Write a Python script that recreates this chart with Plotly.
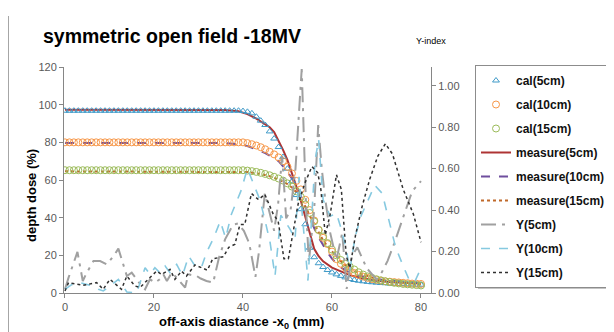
import plotly.graph_objects as go

# ---------------- data ----------------
x_mm = list(range(0, 81))

cal_5cm = [
    96.8, 96.8, 96.8, 96.8, 96.8, 96.8, 96.8, 96.8, 96.8, 96.8,
    96.8, 96.8, 96.8, 96.8, 96.8, 96.8, 96.8, 96.8, 96.8, 96.8,
    96.8, 96.8, 96.8, 96.8, 96.8, 96.8, 96.8, 96.8, 96.8, 96.8,
    96.8, 96.8, 96.8, 96.8, 96.8, 96.8, 96.8, 96.8, 96.8, 96.8,
    96.6, 96.2, 95.4, 93.6, 91.5, 89.2, 85.8, 82.0, 77.5, 72.2,
    66.0, 59.3, 52.0, 44.5, 36.5, 24.0, 19.0, 15.8, 13.8, 12.2,
    10.9, 9.9, 9.1, 8.3, 7.4, 6.9, 6.5, 6.2, 5.9, 5.7,
    5.5, 5.3, 5.2, 5.0, 4.9, 4.8, 4.7, 4.6, 4.5, 4.4,
    4.4,
]
cal_10cm = [
    80.0, 80.0, 80.0, 80.0, 80.0, 80.0, 80.0, 80.0, 80.0, 80.0,
    80.0, 80.0, 80.0, 80.0, 80.0, 80.0, 80.0, 80.0, 80.0, 80.0,
    80.0, 80.0, 80.0, 80.0, 80.0, 80.0, 80.0, 80.0, 80.0, 80.0,
    80.0, 80.0, 80.0, 80.0, 80.0, 80.0, 80.0, 80.0, 80.0, 80.0,
    80.0, 79.6, 79.0, 78.3, 77.4, 76.3, 75.0, 73.6, 72.0, 70.0,
    67.0, 63.5, 59.5, 55.0, 49.5, 44.0, 38.5, 33.5, 29.3, 26.0,
    22.0, 18.0, 15.5, 13.5, 12.0, 10.6, 9.6, 8.7, 8.0, 7.4,
    7.0, 6.6, 6.2, 6.0, 5.8, 5.6, 5.4, 5.2, 5.0, 4.9,
    4.8,
]
cal_15cm = [
    65.2, 65.2, 65.2, 65.2, 65.2, 65.2, 65.2, 65.2, 65.2, 65.2,
    65.2, 65.2, 65.2, 65.2, 65.2, 65.2, 65.2, 65.2, 65.2, 65.2,
    65.2, 65.2, 65.2, 65.2, 65.2, 65.2, 65.2, 65.2, 65.2, 65.2,
    65.2, 65.2, 65.2, 65.2, 65.2, 65.2, 65.2, 65.2, 65.2, 65.2,
    65.2, 65.0, 64.7, 64.3, 63.8, 63.2, 62.5, 61.7, 60.8, 59.7,
    58.2, 56.5, 54.0, 51.0, 47.0, 42.5, 38.0, 33.5, 30.0, 26.5,
    23.0, 20.0, 17.5, 15.5, 14.0, 12.5, 11.0, 9.8, 8.8, 8.0,
    7.3, 6.7, 6.2, 5.8, 5.4, 5.1, 4.8, 4.6, 4.4, 4.2,
    4.0,
]

meas5_x = [0, 10, 20, 30, 36, 39, 41, 43, 45, 46, 47, 48, 49, 50, 51, 52, 53, 54,
           55, 56, 57, 58, 60, 62, 64, 66, 68, 70, 73, 76, 80]
meas5_y = [97.3, 97.3, 97.3, 97.3, 97.2, 96.5, 95.0, 92.6, 89.5, 88.0, 85.5, 81.0,
           76.0, 70.5, 64.0, 56.5, 49.0, 40.5, 31.5, 23.5, 19.5, 16.8, 13.5, 11.3,
           9.5, 8.2, 7.2, 6.5, 5.8, 5.4, 5.0]

meas10_x = [0, 20, 36, 39, 41, 43, 45, 47, 48, 50, 51, 52, 53, 54, 55, 56, 57, 58,
            59, 60, 61, 62, 63, 64, 66, 68, 70, 73, 76, 80]
meas10_y = [79.7, 79.7, 79.6, 79.0, 78.0, 76.3, 74.3, 71.5, 70.0, 64.5, 61.0, 57.0,
            51.5, 45.5, 40.0, 34.5, 29.5, 25.5, 21.5, 18.3, 15.5, 13.5, 12.0, 10.8,
            9.2, 8.2, 7.4, 6.6, 6.0, 5.3]

meas15_x = [0, 20, 38, 41, 44, 46, 48, 50, 51, 52, 53, 54, 55, 56, 57, 58, 59, 60,
            61, 62, 63, 64, 66, 68, 70, 73, 76, 80]
meas15_y = [64.6, 64.6, 64.5, 64.2, 63.2, 62.0, 60.3, 57.8, 56.0, 53.5, 50.0, 46.0,
            41.0, 36.5, 32.0, 28.0, 24.8, 22.0, 19.0, 16.8, 14.8, 13.0, 10.5, 8.8,
            7.5, 6.3, 5.5, 4.6]

g5_x = [0, 0.8, 2.8, 3.4, 4.0, 4.9, 6.4, 7.9, 9.4, 10.9, 12.0, 13.9, 15.0, 16.1,
        17.2, 18.0, 19.1, 20.2, 21.3, 22.1, 22.9, 24.0, 25.1, 27.0, 27.7, 29.6,
        30.5, 31.8, 33.3, 34.6, 36.0, 37.8, 38.9, 40.2, 41.4, 42.8, 43.6, 44.9,
        46.1, 47.0, 47.9, 48.8, 49.7, 50.7, 51.8, 53.2, 54.2, 54.8, 56.0, 56.9,
        57.7, 58.5, 59.6, 61.0, 62.3, 63.3, 64.5, 65.7, 67.8, 70.0, 71.2, 72.5,
        74.0, 76.5, 78.0, 80.0]
g5_y = [0.018, 0.074, 0.198, 0.122, 0.058, 0.098, 0.154, 0.154, 0.138, 0.178,
        0.214, 0.082, 0.098, 0.066, 0.034, 0.018, 0.066, 0.05, 0.066, 0.09,
        0.058, 0.098, 0.074, 0.026, 0.09, 0.082, 0.07, 0.058, 0.05, 0.17,
        0.26, 0.33, 0.335, 0.30, 0.24, 0.078, 0.20, 0.48, 0.38, 0.30,
        0.43, 0.66, 0.36, 0.40, 0.60, 1.08, 0.40, 0.15, 0.40, 0.81,
        0.60, 0.45, 0.29, 0.16, 0.29, 0.02, 0.18, 0.22, 0.12, 0.066,
        0.10, 0.155, 0.24, 0.40, 0.49, 0.54]

g10_x = [0, 1.5, 3.4, 5.6, 7.5, 8.6, 10.1, 12.0, 13.9, 16.1, 18.0, 19.1, 20.2,
         21.3, 22.5, 23.6, 25.1, 26.4, 27.8, 29.0, 30.6, 31.8, 33.5, 34.9, 36.1,
         37.4, 39.5, 41.0, 42.3, 43.8, 44.9, 46.1, 47.2, 48.5, 49.4, 50.6, 51.7,
         52.6, 54.6, 56.2, 57.0, 58.0, 59.6, 61.0, 62.2, 63.3, 64.0, 65.2, 66.5,
         68.0, 69.6, 71.3, 72.5, 74.3, 76.0, 77.3, 78.5, 80.0]
g10_y = [0.018, 0.04, 0.05, 0.037, 0.018, 0.01, 0.034, 0.066, 0.005, 0.0,
         0.122, 0.09, 0.122, 0.098, 0.13, 0.098, 0.138, 0.085, 0.178, 0.138,
         0.12, 0.195, 0.27, 0.347, 0.265, 0.38, 0.49, 0.60, 0.53, 0.45,
         0.355, 0.243, 0.082, 0.375, 0.347, 0.307, 0.26, 0.56, 0.06, 0.64,
         0.74, 0.45, 0.37, 0.385, 0.30, 0.20, 0.11, 0.27, 0.37, 0.44,
         0.52, 0.48, 0.38, 0.22, 0.13, 0.066, 0.05, 0.12]

g15_x = [0, 0.8, 4.1, 7.1, 8.6, 10.1, 12.7, 13.9, 15.7, 16.9, 18.7, 20.6, 21.7,
         23.6, 24.7, 26.2, 27.3, 29.2, 30.7, 32.0, 33.2, 35.6, 36.8, 38.2, 39.3,
         40.4, 41.9, 43.5, 44.9, 46.8, 47.9, 49.2, 50.2, 51.3, 52.4, 53.9, 55.5,
         56.8, 57.5, 58.5, 59.6, 61.0, 62.1, 63.2, 64.0, 65.3, 66.8, 68.5, 70.3,
         72.0, 73.6, 76.0, 78.3, 80.0]
g15_y = [0.01, 0.05, 0.037, 0.05, 0.018, 0.066, 0.018, 0.082, 0.034, 0.027,
         0.066, 0.106, 0.09, 0.114, 0.066, 0.105, 0.082, 0.135, 0.122, 0.11,
         0.165, 0.175, 0.22, 0.235, 0.33, 0.33, 0.48, 0.45, 0.476, 0.38,
         0.347, 0.165, 0.165, 0.30, 0.43, 0.53, 0.61, 0.58, 0.50, 0.28,
         0.38, 0.57, 0.50, 0.18, 0.12, 0.28, 0.42, 0.55, 0.66, 0.72,
         0.67, 0.50, 0.38, 0.245]

left_ticks = [0, 20, 40, 60, 80, 100, 120]
right_ticks = [0.0, 0.2, 0.4, 0.6, 0.8, 1.0]
x_ticks = [0, 20, 40, 60, 80]

# ---------------- figure ----------------
FONT = "Liberation Sans, Arial, sans-serif"
OFF = 8                      # page body margin of the browser
W, H = 614 - OFF, 332 - OFF  # figure size so that it ends at the window edge
# plot area in window pixels
PL, PR, PT, PB = 64, 431, 67, 293
L, R, T, B = PL - OFF, W - (PR - OFF), PT - OFF, H - (PB - OFF)
PW, PH = PR - PL, PB - PT


def px_x(p):
    return (p - PL) / PW


def px_y(p):
    return (PB - p) / PH


def cx(p):   # window pixel -> container fraction
    return (p - OFF) / W


def cy(p):
    return 1 - (p - OFF) / H


fig = go.Figure()

# measured dose curves
fig.add_trace(go.Scatter(x=meas5_x, y=meas5_y, mode="lines", name="<b>measure(5cm)</b>",
                         line=dict(color="#AE3434", width=2), legendrank=4,
                         legendgroup="m5"))
fig.add_trace(go.Scatter(x=meas10_x, y=meas10_y, mode="lines", name="<b>measure(10cm)</b>",
                         line=dict(color="#6F4E9E", width=2, dash="dash"), legendrank=5,
                         legendgroup="m10"))
fig.add_trace(go.Scatter(x=meas15_x, y=meas15_y, mode="lines", name="<b>measure(15cm)</b>",
                         line=dict(color="#C0692A", width=2, dash="dot"), legendrank=6,
                         legendgroup="m15"))
# calculated dose
fig.add_trace(go.Scatter(x=x_mm, y=cal_5cm, mode="markers", name="<b>cal(5cm)</b>",
                         marker=dict(symbol="triangle-up-open", size=6, color="#3F9AC8",
                                     line=dict(width=1)), legendrank=1, legendgroup="c5"))
fig.add_trace(go.Scatter(x=x_mm, y=cal_10cm, mode="markers", name="<b>cal(10cm)</b>",
                         marker=dict(symbol="circle-open", size=7, color="#F79646",
                                     line=dict(width=1)), legendrank=2, legendgroup="c10"))
fig.add_trace(go.Scatter(x=x_mm, y=cal_15cm, mode="markers", name="<b>cal(15cm)</b>",
                         marker=dict(symbol="circle-open", size=7, color="#9BBB59",
                                     line=dict(width=1)), legendrank=3, legendgroup="c15"))
# gamma index (secondary axis)
fig.add_trace(go.Scatter(x=g5_x, y=g5_y, mode="lines", name="<b>Y(5cm)</b>", yaxis="y2",
                         line=dict(color="#A0A0A0", width=2, dash="longdashdot"),
                         legendrank=7, legendgroup="g5"))
fig.add_trace(go.Scatter(x=g10_x, y=g10_y, mode="lines", name="<b>Y(10cm)</b>", yaxis="y2",
                         line=dict(color="#86C9E0", width=1.6, dash="dash"),
                         legendrank=8, legendgroup="g10"))
fig.add_trace(go.Scatter(x=g15_x, y=g15_y, mode="lines", name="<b>Y(15cm)</b>", yaxis="y2",
                         line=dict(color="#303030", width=1.5, dash="dot"),
                         legendrank=9, legendgroup="g15"))

axis_common = dict(showgrid=False, zeroline=False, showline=True, linecolor="#868686",
                   linewidth=1, ticks="outside", ticklen=4, tickcolor="#868686",
                   tickfont=dict(family=FONT, size=11, color="#595959"))

fig.update_layout(
    width=W, height=H,
    margin=dict(l=L, r=R, t=T, b=B, pad=0, autoexpand=False),
    paper_bgcolor="white", plot_bgcolor="white",
    showlegend=True,
    xaxis=dict(range=[-0.22, 82.25], tickvals=x_ticks, **axis_common),
    yaxis=dict(range=[0, 120], tickvals=left_ticks, **axis_common),
    yaxis2=dict(range=[0, 1.09], tickvals=right_ticks, tickformat=".2f",
                overlaying="y", side="right", **axis_common),
    legend=dict(xref="container", yref="container", x=cx(475), y=cy(65),
                xanchor="left", yanchor="top",
                bgcolor="white", bordercolor="#8C8C8C", borderwidth=1,
                font=dict(family=FONT, size=12, color="#111111"),
                tracegroupgap=5, traceorder="grouped", maxheight=300),
)

fig.add_annotation(text="<b>symmetric open field -18MV</b>", xref="paper", yref="paper",
                   x=px_x(41), y=px_y(36), xanchor="left", yanchor="middle",
                   showarrow=False, font=dict(family=FONT, size=19.5, color="#000000"))
fig.add_annotation(text="Y-index", xref="paper", yref="paper", x=px_x(431), y=px_y(41),
                   xanchor="center", yanchor="middle", showarrow=False,
                   font=dict(family=FONT, size=9, color="#000000"))
fig.add_annotation(text="<b>depth dose (%)</b>", xref="paper", yref="paper",
                   x=px_x(31), y=px_y(196), xanchor="center", yanchor="middle",
                   textangle=-90, showarrow=False,
                   font=dict(family=FONT, size=13, color="#000000"))
fig.add_annotation(text="<b>off-axis diastance -x<sub>0</sub> (mm)</b>", xref="paper",
                   yref="paper", x=px_x(241), y=px_y(322), xanchor="center",
                   yanchor="middle", showarrow=False,
                   font=dict(family=FONT, size=13, color="#000000"))

# legend shadow and left frame line
fig.add_shape(type="rect", xref="paper", yref="paper", x0=px_x(478), x1=px_x(617),
              y0=px_y(289), y1=px_y(68), fillcolor="#C4C4C4", line=dict(width=0),
              layer="below")
fig.add_shape(type="line", xref="paper", yref="paper", x0=px_x(8.5), x1=px_x(8.5),
              y0=px_y(16), y1=px_y(332), line=dict(color="#A6A6A6", width=1))

fig.write_html("out.html")
